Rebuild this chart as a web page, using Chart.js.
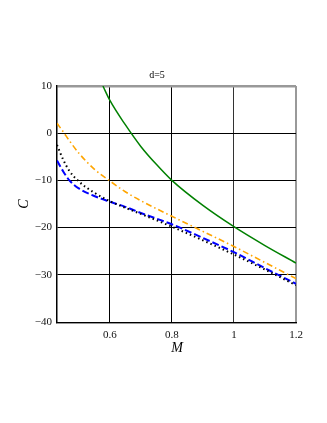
<!DOCTYPE html>
<html>
<head>
<meta charset="utf-8">
<script src="https://cdn.jsdelivr.net/npm/chart.js@4"></script>
<style>
  html, body { margin: 0; padding: 0; background: #fff; }
  #wrap { width: 327px; height: 423px; }
</style>
</head>
<body>
<div id="wrap"><canvas id="chartC"></canvas></div>
<script>
// values
const titleText = "d=5";
const mGreen = [0.578, 0.6, 0.65, 0.7, 0.75, 0.8, 0.9, 1.0, 1.1, 1.2];
const cGreen = [10, 7.0, 1.8, -2.8, -6.6, -10, -15.3, -19.8, -23.8, -27.5];
const mLow = [0.43, 0.45, 0.47, 0.5, 0.55, 0.6, 0.65, 0.7, 0.8, 0.9, 1.0, 1.1, 1.2];
const cOrange = [2.1, 0.3, -1.6, -4.2, -7.6, -10.1, -12.4, -14.3, -17.6, -20.8, -24.0, -27.4, -30.8];
const cBlack = [-2.5, -5.6, -8.0, -10.2, -12.6, -14.4, -15.8, -17.1, -19.8, -22.7, -25.7, -28.9, -32.2];
const cBlue = [-5.8, -8.1, -10.0, -11.7, -13.3, -14.5, -15.6, -16.9, -19.3, -22.2, -25.2, -28.6, -31.9];
const xTicks = [0.6, 0.8, 1.0, 1.2];
const yTicks = [10, 0, -10, -20, -30, -40];

const SERIF = "'Liberation Serif', 'DejaVu Serif', serif";

function pts(xs, ys) {
    return xs.map((x, i) => ({x: x, y: ys[i]}));
}
function fmt(v) {
    let s = String(Math.round(v * 10) / 10);
    return s.replace("-", "\u2212");
}

// title and axis names drawn at fixed spots
const labelsPlugin = {
    id: "labels",
    afterDraw(chart) {
        const ctx = chart.ctx;
        ctx.save();
        ctx.fillStyle = "#000";
        ctx.textAlign = "center";
        ctx.textBaseline = "middle";
        ctx.font = "10px " + SERIF;
        ctx.fillText(titleText, 157, 75);
        ctx.font = "italic 14px " + SERIF;
        ctx.fillText("M", 177, 348);
        ctx.translate(24, 204);
        ctx.rotate(-Math.PI / 2);
        ctx.fillText("C", 0, 0);
        ctx.restore();
        // grey edge under the bottom axis
        const a = chart.chartArea;
        ctx.save();
        ctx.strokeStyle = "#999";
        ctx.lineWidth = 1;
        ctx.beginPath();
        ctx.moveTo(a.left, a.bottom + 1.5);
        ctx.lineTo(a.right + 1, a.bottom + 1.5);
        ctx.stroke();
        ctx.restore();
    }
};

var ctxC = document.getElementById("chartC").getContext("2d");
var chartC = new Chart(ctxC, {
    type: "line",
    data: {
        datasets: [
            {data: pts(mGreen, cGreen), borderColor: "#008000", borderWidth: 1.5},
            {data: pts(mLow, cOrange), borderColor: "#FFA500", borderWidth: 1.6, borderDash: [6, 3, 1.5, 3]},
            {data: pts(mLow, cBlack), borderColor: "#000", borderWidth: 2, borderDash: [1.5, 3]},
            {data: pts(mLow, cBlue), borderColor: "#0000FF", borderWidth: 2, borderDash: [7, 3]}
        ]
    },
    options: {
        responsive: true,
        maintainAspectRatio: false,
        animation: false,
        layout: {padding: {top: 86, right: 31, bottom: 0, left: 0}},
        elements: {
            point: {radius: 0},
            line: {cubicInterpolationMode: "monotone", fill: false}
        },
        plugins: {
            legend: {display: false},
            tooltip: {enabled: false}
        },
        scales: {
            x: {
                type: "linear",
                min: 0.43,
                max: 1.2,
                afterBuildTicks: (s) => { s.ticks = xTicks.map(v => ({value: v})); },
                afterFit: (s) => { s.height = 101; },
                border: {display: true, color: "#000", width: 1},
                grid: {
                    drawTicks: false,
                    color: (c) => c.tick && c.tick.value === 1.2 ? "#999" : (c.tick && c.tick.value === 1.0 ? "#333" : "#000"),
                    lineWidth: (c) => c.tick && c.tick.value === 1.2 ? 2 : 1
                },
                ticks: {
                    padding: 7,
                    color: "#111",
                    font: {family: SERIF, size: 11},
                    callback: (v) => fmt(v)
                }
            },
            y: {
                type: "linear",
                min: -40,
                max: 10,
                afterBuildTicks: (s) => { s.ticks = yTicks.map(v => ({value: v})); },
                afterFit: (s) => { s.width = 57; },
                border: {display: true, color: "#000", width: 1.5},
                grid: {
                    drawTicks: false,
                    color: (c) => c.tick && c.tick.value === 10 ? "#999" : "#000",
                    lineWidth: (c) => c.tick && c.tick.value === 10 ? 2.5 : 1
                },
                ticks: {
                    padding: 5,
                    color: "#111",
                    font: {family: SERIF, size: 11},
                    callback: (v) => fmt(v)
                }
            }
        }
    },
    plugins: [labelsPlugin]
});
</script>
</body>
</html>
